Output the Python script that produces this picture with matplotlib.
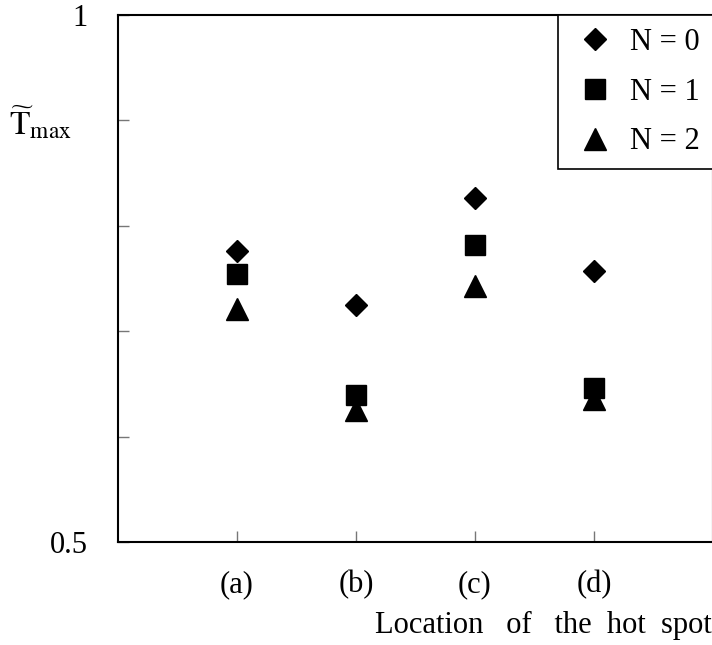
import numpy as np
import matplotlib.pyplot as plt

plt.rcParams['font.family'] = ['Liberation Serif', 'DejaVu Serif']
plt.rcParams['mathtext.fontset'] = 'stix'

locations = ['(a)', '(b)', '(c)', '(d)']
n0 = [0.776, 0.725, 0.826, 0.757]
n1 = [0.754, 0.639, 0.782, 0.646]
n2 = [0.721, 0.625, 0.743, 0.636]

x = np.arange(1, len(locations) + 1)

fig = plt.figure(figsize=(7.12, 6.45), dpi=100)
ax = fig.add_axes([0.1657, 0.1597, 0.8357, 0.817])

ax.plot(x, n0, 'D', color='black', markersize=11, linestyle='none', label='N = 0')
ax.plot(x, n1, 's', color='black', markersize=14, linestyle='none', label='N = 1')
ax.plot(x, n2, '^', color='black', markersize=16, linestyle='none', label='N = 2')

ax.set_xlim(0, 5)
ax.set_ylim(0.5, 1)
ax.set_xticks(x)
ax.set_xticklabels(locations, fontsize=22)
ax.set_yticks([0.5, 1])
ax.set_yticklabels(['0.5', '1'], fontsize=22)
ax.set_yticks([0.6, 0.7, 0.8, 0.9], minor=True)
ax.tick_params(axis='both', which='both', direction='in', length=8, width=1, color='#777777')
ax.tick_params(axis='x', pad=20)
ax.tick_params(axis='y', pad=22)
for s in ax.spines.values():
    s.set_linewidth(1.5)

# the reference label is widely tracked, so spread the words a bit
fig.text(0.999, 0.03, 'Location   of   the  hot  spot', fontsize=22, ha='right', va='center')
fig.text(0.012, 0.81, r'$\widetilde{\mathrm{T}}_{\mathrm{max}}$', fontsize=24, ha='left', va='center')

leg = ax.legend(loc='upper right', bbox_to_anchor=(1.0, 1.0), borderaxespad=0,
                fontsize=22, fancybox=False, edgecolor='black', framealpha=1,
                handlelength=1.6, handletextpad=0.35, labelspacing=0.68,
                borderpad=0.42, numpoints=1)
leg.get_frame().set_linewidth(1.2)

fig.savefig('out.png', dpi=100)
